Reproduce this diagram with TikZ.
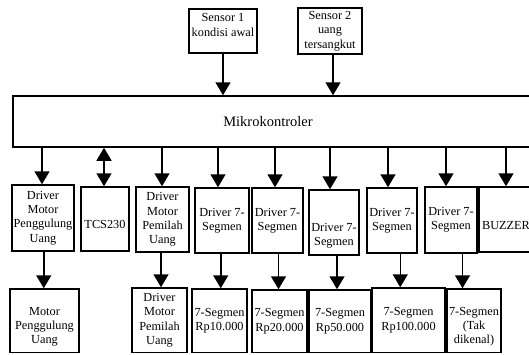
\documentclass[tikz,border=0pt]{standalone}
\usepackage{fontspec}
\setmainfont{Liberation Serif}
\usetikzlibrary{arrows.meta,calc}
\tikzset{
  blok/.style={draw,line width=1.5pt,align=center,inner sep=0pt,
    font=\fontsize{12.3}{14.3}\selectfont},
  isi/.style={align=center,inner sep=0pt,font=\fontsize{12.3}{14.3}\selectfont},
}
\begin{document}
\begin{tikzpicture}[>={Triangle[length=13pt,width=15pt]},line width=1.5pt,x=1pt,y=-1pt]
\useasboundingbox (0,0) rectangle (529,354);
\clip (0,0) rectangle (529,354);

 % sensors and controller
 \node (sensor_1) at (223,31) [blok,minimum width=68pt,minimum height=44pt,
   label={[isi,yshift=6pt]center:Sensor 1\\kondisi awal}] {};
 \node (sensor_2) at (330,31) [blok,minimum width=64pt,minimum height=46pt] {Sensor 2\\uang\\tersangkut};
 \node (mikro) at (276.5,121.5) [blok,minimum width=527pt,minimum height=51pt,font=\fontsize{14.5}{17}\selectfont] {\hspace*{-17pt}Mikrokontroler};

 % drivers
 \node (drv_1) at (43,218) [blok,minimum width=62pt,minimum height=66pt] {Driver\\Motor\\Penggulung\\Uang};
 \node (tcs) at (105,219) [blok,minimum width=48pt,minimum height=64pt,
   label={[isi,yshift=-5pt]center:TCS230}] {};
 \node (drv_2) at (162.5,219.5) [blok,minimum width=53pt,minimum height=65pt] {Driver\\Motor\\Pemilah\\Uang};
 \node (drv_3) at (222,220.5) [blok,minimum width=54pt,minimum height=65pt] {Driver 7-\\Segmen};
 \node (drv_4) at (277.5,220.5) [blok,minimum width=51pt,minimum height=65pt] {Driver 7-\\Segmen};
 \node (drv_5) at (334,222.5) [blok,minimum width=50pt,minimum height=65pt,
   label={[isi,yshift=-13pt]center:Driver 7-\\Segmen}] {};
 \node (drv_6) at (392,220.5) [blok,minimum width=50pt,minimum height=65pt] {Driver 7-\\Segmen};
 \node (drv_7) at (451,220) [blok,minimum width=52pt,minimum height=66pt] {Driver 7-\\Segmen};
 \node (buzzer) at (509.5,219.5) [blok,minimum width=61pt,minimum height=65pt,
   label={[isi,xshift=-3.5pt,yshift=-6pt]center:BUZZER}] {};

 % outputs
 \node (out_1) at (44.5,320.75) [blok,minimum width=69pt,minimum height=63.5pt,
   label={[isi,yshift=-6pt]center:Motor\\Penggulung\\Uang}] {};
 \node (out_2) at (159.5,320.25) [blok,minimum width=55pt,minimum height=64.5pt] {Driver\\Motor\\Pemilah\\Uang};
 \node (out_3) at (219.5,320.75) [blok,minimum width=55pt,minimum height=63.5pt] {7-Segmen\\Rp10.000};
 \node (out_4) at (279.5,321.25) [blok,minimum width=55pt,minimum height=62.5pt] {7-Segmen\\Rp20.000};
 \node (out_5) at (340,321.25) [blok,minimum width=62pt,minimum height=62.5pt] {7-Segmen\\Rp50.000};
 \node (out_6) at (408.5,320.25) [blok,minimum width=73pt,minimum height=64.5pt] {7-Segmen\\Rp100.000};
 \node (out_7) at (474,320.75) [blok,minimum width=54pt,minimum height=63.5pt,
   label={[isi,yshift=-6pt]center:7-Segmen\\(Tak\\dikenal)}] {};

  \draw [->] (sensor_1) -- (sensor_1 |- mikro.north);
  \draw [->] ([xshift=3pt]sensor_2.south) -- ([xshift=3pt]sensor_2.south |- mikro.north);
  \foreach \n/\s in {drv_1/-1,drv_2/-0.5,drv_3/-4,drv_4/-2.5,drv_5/-4,drv_6/-4,drv_7/-5,buzzer/-3.5}
    \draw [->] ([xshift=\s pt]\n.north |- mikro.south) -- ([xshift=\s pt]\n.north);
  \draw [<->] ([xshift=-1pt]tcs.north |- mikro.south) -- ([xshift=-1pt]tcs.north);
  \foreach \a/\b in {drv_1/out_1,drv_2/out_2,drv_3/out_3,drv_4/out_4,drv_5/out_5,drv_6/out_6,drv_7/out_7}{
    \coordinate (m) at ($(\a.south)!.5!(\b.north)$);
    \draw [->] (m |- \a.south) -- (m |- \b.north);
  }

\end{tikzpicture}
\end{document}
